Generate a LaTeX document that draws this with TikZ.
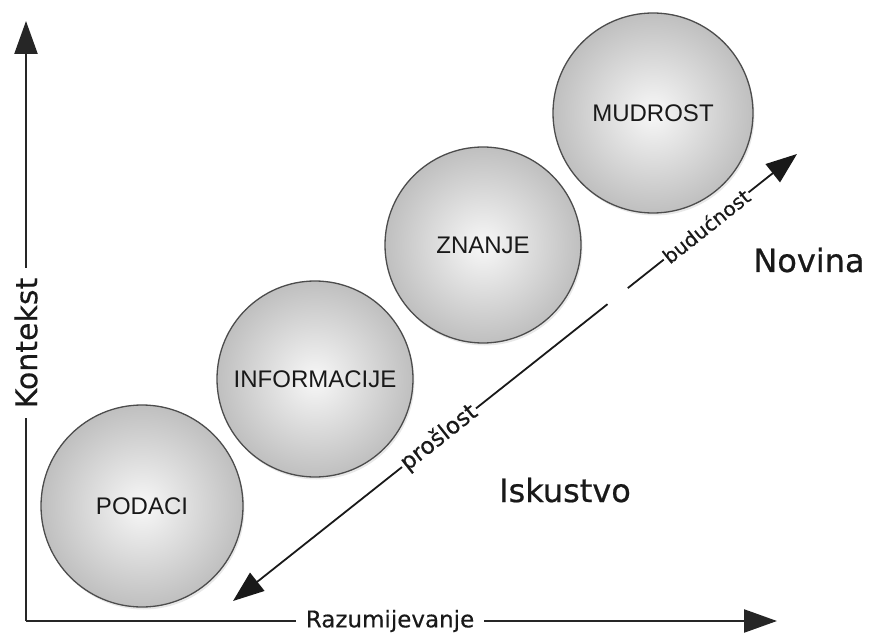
\documentclass[tikz,border=0pt]{standalone}
\usepackage{fontspec}
\setmainfont{DejaVu Sans}
\newfontfamily\arialf{Liberation Sans}
\newfontfamily\dvsemi[FakeBold=0.6]{DejaVu Sans}
\newfontfamily\dvlight[FakeBold=0.3]{DejaVu Sans}
\usetikzlibrary{arrows.meta,shadows,calc}
\begin{document}
\begin{tikzpicture}[x=1pt,y=-1pt,
  ball/.style={circle, draw=black!70, line width=1.3pt, inner color=gray!6, outer color=gray!50,
    minimum size=#1, inner sep=0pt, text=black!90,
    font=\arialf\fontsize{24}{28}\selectfont,
    drop shadow={shadow xshift=1.5pt, shadow yshift=-2.5pt, opacity=0.18}},
  axis/.style={line width=2.4pt, draw=black!85},
  bigtip/.style={-{Triangle[length=33pt,width=23pt]}},
  diag/.style={line width=1.8pt, draw=black!90, -{Triangle[length=31pt,width=23pt]}},
  axlabel/.style={fill=white, inner xsep=10pt, inner ysep=0pt, text=black!90},
  dlabel/.style={fill=white, inner xsep=1.5pt, inner ysep=0pt, sloped, text=black!90},
  biglabel/.style={font=\dvsemi\fontsize{32}{38}\selectfont, text=black!90}
]
\useasboundingbox (0,0) rectangle (872,636);

% axes
\coordinate (O) at (26,621);
\coordinate (Ytip) at (26,21);
\coordinate (Xtip) at (777,621);
\node[axlabel, rotate=90, font=\dvlight\fontsize{30}{34}\selectfont] (kon) at (26,343) {Kontekst};
\node[axlabel, font=\dvlight\fontsize{23}{27}\selectfont] (raz) at (390,621) {Razumijevanje};
\draw[axis] (O) -- (kon.west);
\draw[axis, bigtip] (kon.east) -- (Ytip);
\draw[axis] (O) -- (raz.west);
\draw[axis, bigtip] (raz.east) -- (Xtip);

% circles
\node[ball=202pt] (podaci) at (142,506) {PODACI};
\node[ball=196pt] (info) at (315,379) {INFORMACIJE};
\node[ball=196pt] (znanje) at (483,245) {ZNANJE};
\node[ball=200pt] (mudrost) at (653,113) {MUDROST};

% time arrow
\coordinate (past) at (233,601);
\coordinate (fut) at (797,154);
\coordinate (g1) at ($(past)!0.664!(fut)$);
\coordinate (g2) at ($(past)!0.700!(fut)$);
\draw[diag] (g1) -- node[dlabel, pos=0.45, font=\dvlight\fontsize{23}{27}\selectfont] (prosl) {prošlost} (past);
\draw[diag] (g2) -- node[dlabel, pos=0.463, font=\dvlight\fontsize{20}{24}\selectfont] (buduc) {budućnost} (fut);

% region labels
\node[biglabel, anchor=base] (novina) at (809,272) {Novina};
\node[biglabel, anchor=base] (iskustvo) at (565,502) {Iskustvo};
\end{tikzpicture}
\end{document}
